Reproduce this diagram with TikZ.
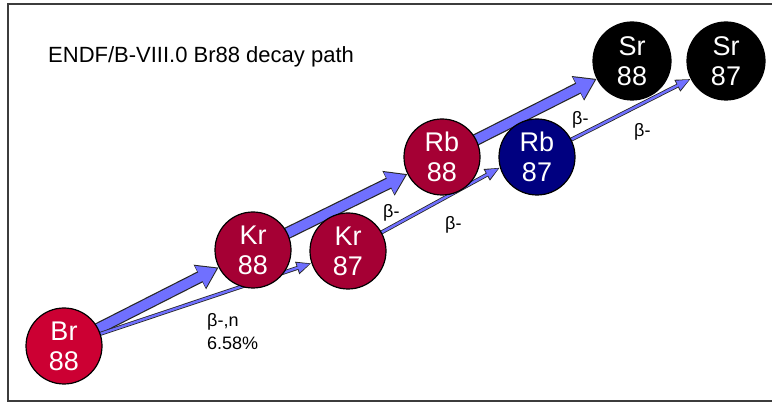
\documentclass[tikz,border=0pt]{standalone}
\usepackage{fontspec}
\setmainfont{Liberation Sans}
\usetikzlibrary{arrows.meta,backgrounds}
\definecolor{brred}{RGB}{204,0,51}
\definecolor{krred}{RGB}{165,0,52}
\definecolor{rbnavy}{RGB}{0,0,128}
\definecolor{decayblue}{RGB}{112,112,255}
\definecolor{framegray}{RGB}{60,60,60}
\newcommand{\mainbranch}[2]{% thick block arrow  (main beta- chain)
  \begin{pgfonlayer}{background}
    \draw[line width=12pt,black!85,shorten <=-4pt,
          -{Triangle[width=26pt,length=21pt]}] (#1) -- (#2);
    \draw[line width=9.6pt,decayblue,shorten <=-4pt,shorten >=1.9pt,
          -{Triangle[width=23pt,length=18.5pt]}] (#1) -- (#2);
  \end{pgfonlayer}}
\newcommand{\sidebranch}[2]{% thin arrow  (delayed neutron branch)
  \begin{pgfonlayer}{background}
    \draw[line width=4pt,black!85,shorten <=-4pt,
          -{Triangle[width=12pt,length=15pt]}] (#1) -- (#2);
    \draw[line width=2.4pt,decayblue,shorten <=-4pt,shorten >=1.6pt,
          -{Triangle[width=9.5pt,length=12.5pt]}] (#1) -- (#2);
  \end{pgfonlayer}}

\begin{document}
\begin{tikzpicture}[x=1pt,y=-1pt,
      nuclide/.style={circle,draw=black,line width=1.2pt,minimum size=76pt,
                      inner sep=0pt,align=center,text=white,
                      font=\fontsize{27}{30}\selectfont},
      tag/.style={inner sep=0pt,anchor=base west,font=\fontsize{18}{23}\selectfont}]
    \useasboundingbox (0,0) rectangle (772,403);
    \draw[framegray,line width=1.8pt] (772,4) -| (8,401) -- (772,401);

    \node[inner sep=0pt,anchor=base west,font=\fontsize{22}{26}\selectfont] (title)
          at (48,63) {ENDF/B-VIII.0 Br88 decay path};

    % ---- mass 88 chain ----------------------------------------------
    \node[nuclide,fill=brred] (br88) at (64,346) {Br\\88};
    \node[nuclide,fill=krred] (kr88) at (253,250) {Kr\\88};
    \node[nuclide,fill=krred] (rb88) at (442,157) {Rb\\88};
    \node[nuclide,fill=black,minimum size=78pt] (sr88) at (632,61) {Sr\\88};

    % ---- mass 87 chain (after neutron emission) ---------------------
    \node[nuclide,fill=krred] (kr87) at (348,251) {Kr\\87};
    \node[nuclide,fill=rbnavy] (rb87) at (537,157) {Rb\\87};
    \node[nuclide,fill=black,minimum size=78pt] (sr87) at (726,61) {Sr\\87};

    % ---- decays -----------------------------------------------------
    \mainbranch{br88}{kr88}
    \mainbranch{kr88}{rb88}
    \mainbranch{rb88}{sr88}
    \sidebranch{br88}{kr87}
    \sidebranch{kr87.29}{rb87.196}
    \sidebranch{rb87}{sr87}

    \node[tag,align=left] (lbn) at (207,350) {β-,n\\6.58\%};
    \node[tag] (lkr88) at (383,218) {β-};
    \node[tag] (lkr87) at (445,230) {β-};
    \node[tag] (lrb88) at (572,125) {β-};
    \node[tag] (lrb87) at (634,137) {β-};
  \end{tikzpicture}
\end{document}
